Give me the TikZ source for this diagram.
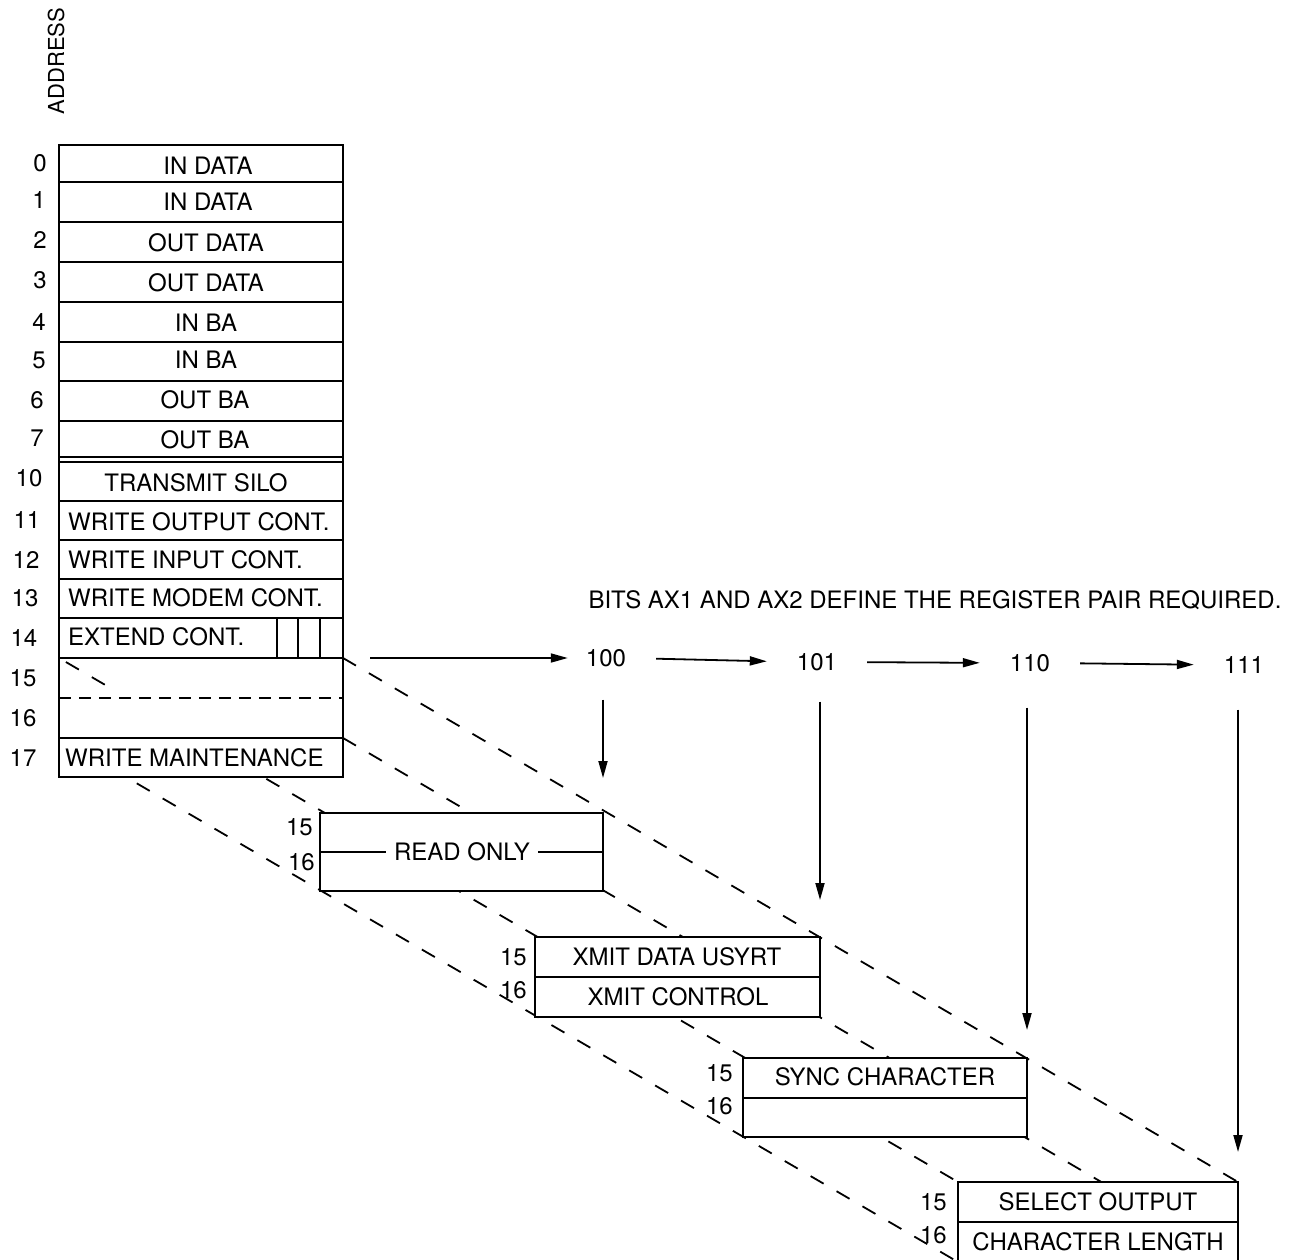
\documentclass[tikz,border=0pt]{standalone}
\usepackage{fontspec}
\setmainfont{TeX Gyre Heros}
\usetikzlibrary{arrows.meta,backgrounds}
\begin{document}
\begin{tikzpicture}[x=1pt,y=-1pt,
  regbox/.style={line width=2.4pt, fill=white},
  subbox/.style={draw, line width=2.4pt, fill=white, inner sep=0pt, outer sep=0pt, anchor=north west},
  rowline/.style={line width=2pt},
  txt/.style={font=\fontsize{24}{28}\selectfont, inner sep=0pt, text height=17pt, text depth=0pt},
  lft/.style={txt, anchor=west},
  adr/.style={txt, anchor=east},
  persp/.style={line width=1.8pt, dash pattern=on 15pt off 15pt},
  arr/.style={line width=1.8pt, -{Triangle[length=17pt,width=9pt]}}]
\useasboundingbox (0,0) rectangle (1304,1260);

% heading
\node[rotate=90, font=\fontsize{22}{24}\selectfont, inner sep=0pt] (addr) at (56,61) {ADDRESS};

% main register box
\coordinate (tl) at (59,658);
\coordinate (tr) at (343,658);
\coordinate (bl) at (59,738);
\coordinate (br) at (343,738);
\draw[regbox] (59,145) rectangle (343,777);
\foreach \yy in {182,222,262,302,342,381,421,457,462,501,540,579,618,658,738}
  \draw[rowline] (59,\yy) -- (343,\yy);
\draw[rowline, dash pattern=on 12pt off 8pt] (59,698) -- (343,698);
\foreach \xx in {277,298,320}
  \draw[rowline] (\xx,618) -- (\xx,658);

% address numbers
\node[txt] (a0) at (40,163) {0};
\node[txt] (a1) at (39,200) {1};
\node[txt] (a2) at (40,240) {2};
\node[txt] (a3) at (40,280) {3};
\node[txt] (a4) at (39,322) {4};
\node[txt] (a5) at (39,360) {5};
\node[txt] (a6) at (37,400) {6};
\node[txt] (a7) at (37,438) {7};
\node[txt] (a10) at (29,478) {10};
\node[txt] (a11) at (27,520) {11};
\node[txt] (a12) at (26,560) {12};
\node[txt] (a13) at (25,598) {13};
\node[txt] (a14) at (24,638) {14};
\node[txt] (a15) at (23,678) {15};
\node[txt] (a16) at (23,718) {16};
\node[txt] (a17) at (23,758) {17};

% row texts
\node[txt] (r0) at (208,166) {IN DATA};
\node[txt] (r1) at (208,202) {IN DATA};
\node[txt] (r2) at (206,243) {OUT DATA};
\node[txt] (r3) at (206,283) {OUT DATA};
\node[txt] (r4) at (206,323) {IN BA};
\node[txt] (r5) at (206,360) {IN BA};
\node[txt] (r6) at (205,400) {OUT BA};
\node[txt] (r7) at (205,440) {OUT BA};
\node[txt] (r10) at (196,483) {TRANSMIT SILO};
\node[lft] (r11) at (68,522) {WRITE OUTPUT CONT.};
\node[lft] (r12) at (68,560) {WRITE INPUT CONT.};
\node[lft] (r13) at (68,598) {WRITE MODEM CONT.};
\node[lft] (r14) at (68,637) {EXTEND CONT.};
\node[lft] (r17) at (65,758) {WRITE MAINTENANCE};

% visible start of the upper-left projection line inside the box
\path (tl) -- (958,1182) coordinate[pos=0.065] (tlv);
\draw[persp, dash phase=22pt] (tl) -- (tlv);

% sub-register boxes
\node[subbox, minimum width=283pt, minimum height=78pt] (A) at (320,813) {};
\node[subbox, minimum width=285pt, minimum height=80pt] (B) at (535,937) {};
\node[subbox, minimum width=284pt, minimum height=79pt] (C) at (743,1058) {};
\node[subbox, minimum width=280pt, minimum height=80pt] (D) at (958,1182) {};

\node[txt, inner xsep=8pt] (ro) at (462,852) {READ ONLY};
\draw[rowline] (A.west) -- (ro.west);
\draw[rowline] (ro.east) -- (A.east);
\draw[rowline] (B.west) -- (B.east);
\draw[rowline] (C.west) -- (C.east);
\draw[rowline] (D.west) -- (D.east);

\node[txt] (b1) at (677,957) {XMIT DATA USYRT};
\node[txt] (b2) at (678,997) {XMIT CONTROL};
\node[txt] (c1) at (885,1077) {SYNC CHARACTER};
\node[txt] (d1) at (1098,1202) {SELECT OUTPUT};
\node[txt] (d2) at (1098,1242) {CHARACTER LENGTH};

\node[adr] (A15) at (313,827) {15};
\node[adr] (A16) at (315,862) {16};
\node[adr] (B15) at (527,957) {15};
\node[adr] (B16) at (527,990) {16};
\node[adr] (C15) at (733,1073) {15};
\node[adr] (C16) at (733,1106) {16};
\node[adr] (D15) at (947,1202) {15};
\node[adr] (D16) at (947,1235) {16};

% projection lines (behind the boxes)
\begin{scope}[on background layer]
\draw[persp] (tl) -- (D.north west);
\draw[persp] (tr) -- (D.north east);
\draw[persp] (bl) -- (D.south west);
\draw[persp] (br) -- (D.south east);
\end{scope}

% title and selection codes
\node[txt] (title) at (935,600) {BITS AX1 AND AX2 DEFINE THE REGISTER PAIR REQUIRED.};
\node[txt] (n100) at (606,658) {100};
\node[txt] (n101) at (817,662) {101};
\node[txt] (n110) at (1030,663) {110};
\node[txt] (n111) at (1244,665) {111};

\coordinate (start) at (370,658);
\draw[arr, shorten >=18pt] (start) -- (n100.west);
\draw[arr, shorten <=30pt, shorten >=30pt] (n100.east) -- (n101.west);
\draw[arr, shorten <=30pt, shorten >=30pt] (n101.east) -- (n110.west);
\draw[arr, shorten <=30pt, shorten >=30pt] (n110.east) -- (n111.west);

\draw[arr, shorten <=33pt, shorten >=35pt] (n100.south -| A.north east) -- (A.north east);
\draw[arr, shorten <=31pt, shorten >=37pt] (n101.south -| B.north east) -- (B.north east);
\draw[arr, shorten <=36pt, shorten >=28pt] (n110.south -| C.north east) -- (C.north east);
\draw[arr, shorten <=36pt, shorten >=30pt] (n111.south -| D.north east) -- (D.north east);
\end{tikzpicture}
\end{document}
